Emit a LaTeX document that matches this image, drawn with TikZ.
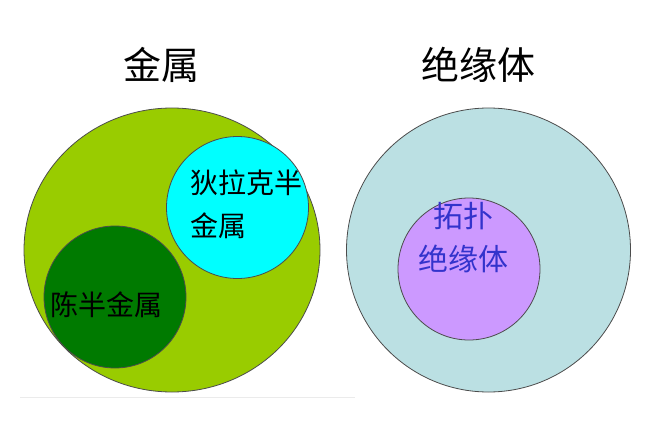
\documentclass[tikz,border=0pt]{standalone}
\usepackage{fontspec}
\setmainfont{Noto Sans CJK SC}
\usepackage{tikz}
\usetikzlibrary{positioning,shapes}
\definecolor{metalgreen}{HTML}{99CC00}
\definecolor{diraccyan}{HTML}{00FFFF}
\definecolor{weylgreen}{HTML}{007A00}
\definecolor{insblue}{HTML}{BBE0E3}
\definecolor{topopurple}{HTML}{CC99FF}
\definecolor{topotext}{HTML}{3333CC}
\tikzset {
    style set/.style={
        draw=black!70,
        line width=0.8pt,
        ellipse, % Set the shape as an ellipse
        inner sep=0pt,
    },
    style metal/.style={
        style set,
        fill=metalgreen,
        minimum width=296pt,
        minimum height=284pt,
    },
    style insulator/.style={
        style set,
        fill=insblue,
        minimum width=284pt,
        minimum height=284pt,
    },
    style small/.style={
        style set,
        minimum width=142pt,
        minimum height=142pt,
    },
    style title/.style={
        font=\fontsize{38}{44}\selectfont,
        inner sep=0pt,
    },
    style label/.style={
        font=\fontsize{28}{43}\selectfont,
        inner sep=0pt,
    },
}

\begin{document}
\begin{tikzpicture}
[x=1pt, y=-1pt]
\useasboundingbox (0,0) rectangle (650,433);

\draw[black!8, line width=0.8pt] (20,397) coordinate (base left) -- (355,397) coordinate (base right);

\node [style title] (metal title) at (161,65) {金属};
\node [style title] (insulator title) at (478,65) {绝缘体};

\node [style metal] (metal) at (172,250) {};
\node [style small, fill=diraccyan] (dirac) at (237.5,207.5) {};
\node [style small, fill=weylgreen] (weyl) at (115,297) {};
\node [style label, anchor=west, align=left] (dirac text) at (190,204.5) {狄拉克半\\金属};
\node [style label] (weyl text) at (106,305) {陈半金属};

\node [style insulator] (insulator) at (488.5,250) {};
\node [style small, fill=topopurple] (topo) at (469,269) {};
\node [style label, font=\fontsize{30}{43}\selectfont, text=topotext, align=center] (topo text) at (463,237.5) {拓扑\\绝缘体};

\end{tikzpicture}
\end{document}
